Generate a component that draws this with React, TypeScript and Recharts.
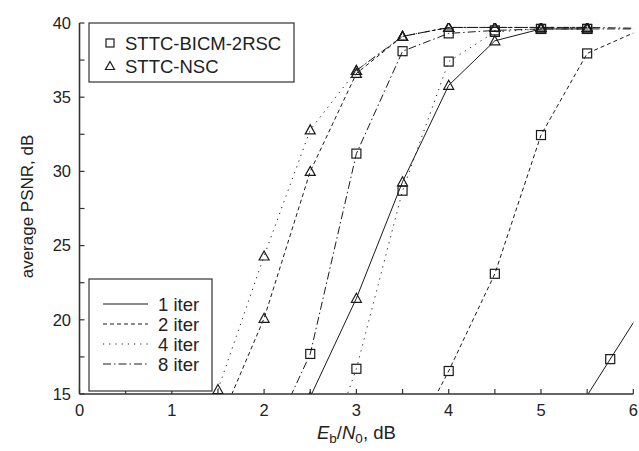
import React from 'react';
import { LineChart, Line, XAxis, YAxis } from 'recharts';

// ---- data ----
const bicm1X = [5.25, 5.75, 6.25];
const bicm1Y = [12.45, 17.35, 22.25];
const bicm2X = [3.5, 4.0, 4.5, 5.0, 5.5, 6.1];
const bicm2Y = [10.6, 16.55, 23.1, 32.45, 37.95, 39.6];
const bicm4X = [2.5, 3.0, 3.5, 4.0, 4.5, 5.0, 5.5];
const bicm4Y = [8.0, 16.7, 28.7, 37.4, 39.4, 39.6, 39.6];
const bicm8X = [2.0, 2.5, 3.0, 3.5, 4.0, 4.5, 5.0, 5.5, 6.5];
const bicm8Y = [11.0, 17.7, 31.2, 38.1, 39.3, 39.5, 39.6, 39.6, 39.6];
const nsc1X = [2.5, 3.0, 3.5, 4.0, 4.5, 5.0, 5.5];
const nsc1Y = [14.8, 21.45, 29.3, 35.8, 38.8, 39.6, 39.6];
const nsc2X = [1.5, 2.0, 2.5, 3.0, 3.5, 4.0, 4.5, 5.0, 5.5];
const nsc2Y = [12.8, 20.1, 30.0, 36.6, 39.1, 39.7, 39.7, 39.7, 39.7];
const nsc4X = [1.5, 2.0, 2.5, 3.0, 3.5, 4.0, 4.5, 5.0, 5.5];
const nsc4Y = [15.3, 24.3, 32.8, 36.8, 39.1, 39.7, 39.7, 39.7, 39.7];
const nsc8X = [3.0, 3.5, 4.0, 4.5, 5.0, 5.5, 6.5];
const nsc8Y = [36.8, 39.1, 39.7, 39.7, 39.7, 39.7, 39.6];

const xTicks = [0, 0.5, 1, 1.5, 2, 2.5, 3, 3.5, 4, 4.5, 5, 5.5, 6];
const yTicks = [15, 17.5, 20, 22.5, 25, 27.5, 30, 32.5, 35, 37.5, 40];
const markerLabels = ['STTC-BICM-2RSC', 'STTC-NSC'];
const iterLabels = ['1 iter', '2 iter', '4 iter', '8 iter'];

const zip = (xs: number[], ys: number[]) => xs.map((x, i) => ({ x, y: ys[i] }));

const INK = '#1a1a1a';
const AXIS = '#333';
const FONT = '"Liberation Sans", Arial, Helvetica, sans-serif';
const TICK_FS = 16.5;
const DASH: Record<string, string | undefined> = {
  solid: undefined,
  dashed: '4 3',
  dotted: '1.2 5',
  dashdot: '8 3 1.5 3',
};

const SquareDot = (p: any) => {
  const { cx, cy } = p;
  if (cx == null || cy == null) return <g />;
  return <rect x={cx - 4.5} y={cy - 4.5} width={9} height={9} fill="none" stroke={INK} strokeWidth={1.2} />;
};
const TriDot = (p: any) => {
  const { cx, cy } = p;
  if (cx == null || cy == null) return <g />;
  return (
    <path d={`M${cx},${cy - 5} L${cx + 5},${cy + 4} L${cx - 5},${cy + 4} Z`} fill="none" stroke={INK} strokeWidth={1.2} />
  );
};

const series = [
  { name: 'bicm1', data: zip(bicm1X, bicm1Y), dash: 'solid', dot: SquareDot },
  { name: 'bicm2', data: zip(bicm2X, bicm2Y), dash: 'dashed', dot: SquareDot },
  { name: 'bicm4', data: zip(bicm4X, bicm4Y), dash: 'dotted', dot: SquareDot },
  { name: 'bicm8', data: zip(bicm8X, bicm8Y), dash: 'dashdot', dot: SquareDot },
  { name: 'nsc1', data: zip(nsc1X, nsc1Y), dash: 'solid', dot: TriDot },
  { name: 'nsc2', data: zip(nsc2X, nsc2Y), dash: 'dashed', dot: TriDot },
  { name: 'nsc4', data: zip(nsc4X, nsc4Y), dash: 'dotted', dot: TriDot },
  { name: 'nsc8', data: zip(nsc8X, nsc8Y), dash: 'dashdot', dot: TriDot },
];

const XTick = (p: any) => {
  const { x, y, payload } = p;
  const v = payload.value;
  const major = Math.abs(v - Math.round(v)) < 1e-6;
  return (
    <g>
      <line x1={x} x2={x} y1={y} y2={y - 5} stroke={AXIS} strokeWidth={1.2} />
      {major && (
        <text x={x} y={y + 21.5} textAnchor="middle" fontSize={TICK_FS} fontFamily={FONT} fill="#222">
          {v}
        </text>
      )}
    </g>
  );
};

const YTick = (p: any) => {
  const { x, y, payload } = p;
  const v = payload.value;
  const major = Math.abs(v / 5 - Math.round(v / 5)) < 1e-6;
  return (
    <g>
      <line x1={x} x2={x + 5} y1={y} y2={y} stroke={AXIS} strokeWidth={1.2} />
      {major && (
        <text x={x - 8.5} y={y + 5.8} textAnchor="end" fontSize={TICK_FS} fontFamily={FONT} fill="#222">
          {v}
        </text>
      )}
    </g>
  );
};

const XLabel = (p: any) => {
  const vb = p.viewBox || {};
  const cx = vb.x + vb.width / 2;
  return (
    <text x={cx} y={vb.y + 44.5} textAnchor="middle" fontSize={18.5} fontFamily={FONT} fill="#222">
      <tspan fontStyle="italic">E</tspan>
      <tspan fontSize={13.5} dy={4.5}>b</tspan>
      <tspan dy={-4.5}>/</tspan>
      <tspan fontStyle="italic">N</tspan>
      <tspan fontSize={13.5} dy={4.5}>0</tspan>
      <tspan dy={-4.5}>, dB</tspan>
    </text>
  );
};

const W = 639;
const H = 451;

export default function App() {
  const top = { x: 89, y: 23, w: 205, h: 59 };
  const bot = { x: 89, y: 279, w: 123, h: 112 };
  return (
    <div style={{ position: 'fixed', left: 0, top: 0, width: W, height: H, background: '#fff' }}>
      <LineChart width={W} height={H} margin={{ top: 23, right: 5.7, bottom: 0, left: 8 }}>
        <XAxis
          type="number"
          dataKey="x"
          domain={[0, 6]}
          ticks={xTicks}
          interval={0}
          allowDataOverflow
          height={57}
          tickSize={0}
          tickMargin={0}
          tickLine={false}
          tick={<XTick />}
          axisLine={{ stroke: AXIS, strokeWidth: 1.6 }}
          label={<XLabel />}
        />
        <YAxis
          type="number"
          dataKey="y"
          domain={[15, 40]}
          ticks={yTicks}
          interval={0}
          allowDataOverflow
          width={71.5}
          tickSize={0}
          tickMargin={0}
          tickLine={false}
          tick={<YTick />}
          axisLine={{ stroke: AXIS, strokeWidth: 1.6 }}
        />
        {series.map((s) => (
          <Line
            key={s.name}
            data={s.data}
            dataKey="y"
            type="linear"
            stroke={INK}
            strokeWidth={1}
            strokeDasharray={DASH[s.dash]}
            dot={s.dot}
            activeDot={false}
            isAnimationActive={false}
          />
        ))}
      </LineChart>
      <svg
        width={W}
        height={H}
        style={{ position: 'absolute', left: 0, top: 0, pointerEvents: 'none' }}
      >
        <text
          transform="rotate(-90)"
          x={-206.5}
          y={33}
          textAnchor="middle"
          fontSize={17}
          fontFamily={FONT}
          fill="#222"
        >
          average PSNR, dB
        </text>
        {/* marker legend */}
        <rect x={top.x} y={top.y} width={top.w} height={top.h} fill="#fff" stroke={AXIS} strokeWidth={1.2} />
        <rect x={110 - 4} y={43 - 4} width={8} height={8} fill="none" stroke={INK} strokeWidth={1.2} />
        <path d={`M110,${66 - 4.5} L114.5,${66 + 3.5} L105.5,${66 + 3.5} Z`} fill="none" stroke={INK} strokeWidth={1.2} />
        {markerLabels.map((t, i) => (
          <text key={t} x={125} y={[49.5, 72.5][i]} fontSize={18.5} fontFamily={FONT} fill="#222">
            {t}
          </text>
        ))}
        {/* line-style legend */}
        <rect x={bot.x} y={bot.y} width={bot.w} height={bot.h} fill="#fff" stroke={AXIS} strokeWidth={1.2} />
        {iterLabels.map((t, i) => {
          const cy = 304 + i * 20;
          const d = [DASH.solid, DASH.dashed, DASH.dotted, DASH.dashdot][i];
          return (
            <g key={t}>
              <line x1={103} x2={148} y1={cy} y2={cy} stroke={INK} strokeWidth={1} strokeDasharray={d} />
              <text x={158} y={cy + 6.5} fontSize={18.5} fontFamily={FONT} fill="#222">
                {t}
              </text>
            </g>
          );
        })}
      </svg>
    </div>
  );
}
